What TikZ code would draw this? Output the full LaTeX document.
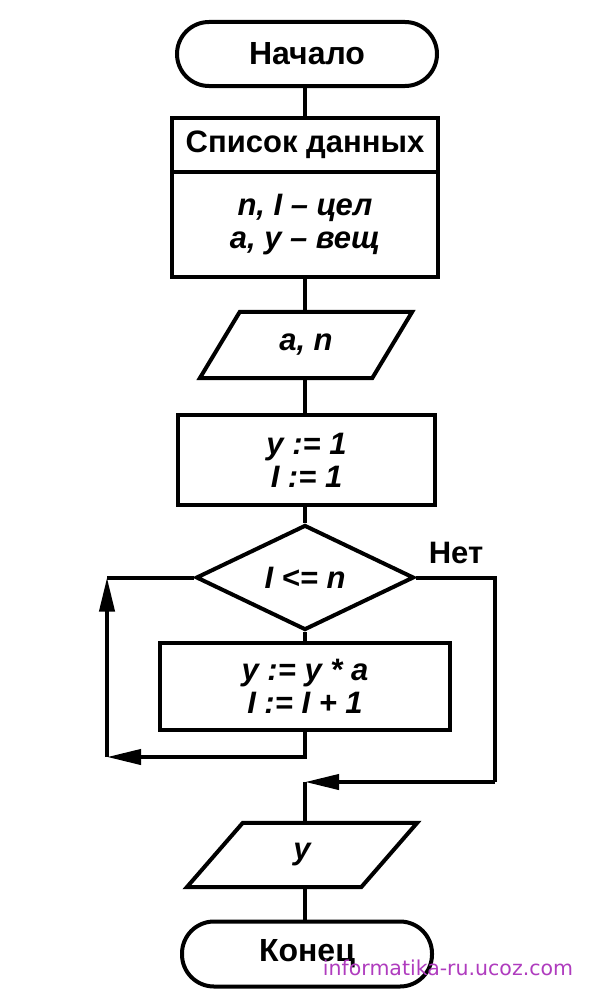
\documentclass[tikz,border=0pt]{standalone}
\usepackage{fontspec}
\setmainfont{Liberation Sans}
\newfontfamily\wmfont{DejaVu Sans}
\usetikzlibrary{shapes.geometric,arrows.meta}
\definecolor{wmcol}{RGB}{175,60,190}
\begin{document}
\begin{tikzpicture}[x=1pt,y=-1pt,
  every node/.style={font=\fontsize{31}{33}\selectfont\bfseries, inner sep=0pt, align=center},
  ln/.style={line width=4pt},
  blk/.style={draw, line width=4pt, rectangle},
  term/.style={draw, line width=4pt, rectangle, rounded corners=32pt},
  io/.style={rectangle, draw=none},
  dec/.style={draw, line width=4pt, diamond},
  arr/.style={line width=4pt, -{Triangle[length=34pt,width=15pt]}},
  var/.style={font=\fontsize{31}{33}\selectfont\bfseries\itshape},
  wm/.style={font=\fontsize{20.5}{22}\selectfont\wmfont, text=wmcol}
]
\useasboundingbox (0,0) rectangle (598,998);

% nodes
\node[term, minimum width=260pt, minimum height=64pt, font=\fontsize{32}{33}\selectfont\bfseries] (start) at (307,54) {Начало};
\node[blk, minimum width=266pt, minimum height=54pt] (list1) at (305,145) {Список данных};
\node[blk, minimum width=266pt, minimum height=105pt, var] (list2) at (305,224.5) {n, I – цел\\a, y – вещ};
\node[io, minimum width=172pt, minimum height=66pt, var] (io1) at (306,345) {a, n};
\draw[ln] ([xshift=20pt]io1.north west) -- ([xshift=20pt]io1.north east)
  -- ([xshift=-20pt]io1.south east) -- ([xshift=-20pt]io1.south west) -- cycle;
\node[blk, minimum width=257pt, minimum height=90pt, var] (init) at (306.5,460) {y := 1\\I := 1};
\node[dec, minimum width=218pt, minimum height=105pt, var] (cond) at (305,577.5) {I <= n};
\node[blk, minimum width=290pt, minimum height=87pt, var] (body) at (305,686.5) {y := y * a\\I := I + 1};
\node[io, minimum width=174pt, minimum height=64pt, var] (io2) at (302,855) {y};
\draw[ln] ([xshift=28pt]io2.north west) -- ([xshift=28pt]io2.north east)
  -- ([xshift=-28pt]io2.south east) -- ([xshift=-28pt]io2.south west) -- cycle;
\node[term, minimum width=250pt, minimum height=65pt, font=\fontsize{32}{33}\selectfont\bfseries] (stop) at (307,954) {Конец};
\node[font=\fontsize{31}{33}\selectfont\bfseries] (no) at (456,553) {Нет};
\node[wm] (wmark) at (448,968) {informatika-ru.ucoz.com};

% helper coordinates
\coordinate (lb) at (107,757);
\coordinate (rb) at (495,782);
\coordinate (nc) at (305,782);

% connectors
\draw[ln] (start.south -| list1.north) -- (list1.north);
\draw[ln] (list2.south) -- (list2.south |- io1.north);
\draw[ln] (list2.south |- io1.south) -- (list2.south |- init.north);
\draw[ln] (list2.south |- init.south) -- (cond.north);
\draw[ln] (cond.south) -- (body.north);
\draw[arr] (body.south) |- (lb);
\draw[arr] (lb) -- (lb |- cond.west);
\draw[ln] (lb |- cond.west) -- (cond.west);
\draw[ln] (cond.east) -| (rb);
\draw[arr] (rb) -- (nc);
\draw[ln] (nc) -- (nc |- io2.north);
\draw[ln] (nc |- io2.south) -- (nc |- stop.north);
\end{tikzpicture}
\end{document}
